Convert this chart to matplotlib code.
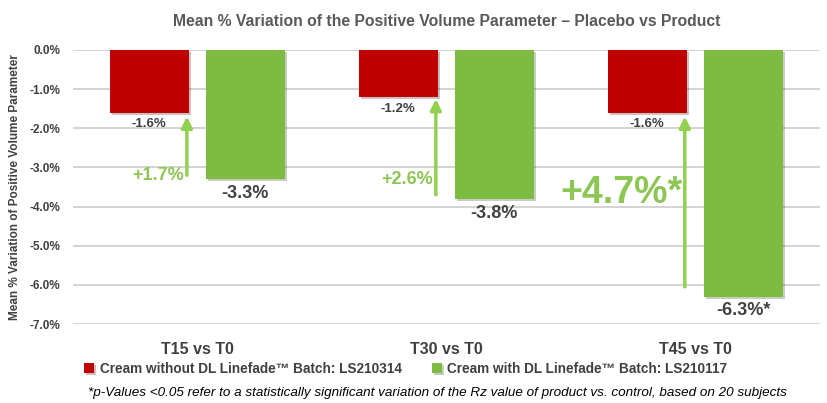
import numpy as np
import matplotlib
matplotlib.use("Agg")
from matplotlib import pyplot as plt
from matplotlib import patheffects as pe

# data
categories = ["T15 vs T0", "T30 vs T0", "T45 vs T0"]
placebo = [-1.6, -1.2, -1.6]
product = [-3.3, -3.8, -6.3]
product_labels = ["-3.3%", "-3.8%", "-6.3%*"]
diff_labels = ["+1.7%", "+2.6%", "+4.7%*"]
arrow_start = [-3.2, -3.7, -6.05]
arrow_end = [-1.7, -1.25, -1.7]
legend_names = ["Cream without DL Linefade\u2122 Batch: LS210314",
                "Cream with DL Linefade\u2122 Batch: LS210117"]

RED = "#C00000"
GREEN = "#7DBB42"
LIGHT_GREEN = "#92D050"
DARK = "#404040"
FONT = ["Liberation Sans", "DejaVu Sans"]

plt.rcParams["font.family"] = FONT

fig = plt.figure(figsize=(8.28, 4.03), dpi=100)
ax = fig.add_axes([0.088, 0.196, 0.902, 0.680])

x = np.arange(len(categories))
w = 0.317
off = 0.193
shadow = [pe.SimplePatchShadow(offset=(1.5, -1.5), alpha=0.25), pe.Normal()]
b1 = ax.bar(x - off, placebo, width=w, color=RED, label=legend_names[0], zorder=3)
b2 = ax.bar(x + off, product, width=w, color=GREEN, label=legend_names[1], zorder=3)
for b in list(b1) + list(b2):
    b.set_path_effects(shadow)

# value labels
for i in range(len(categories)):
    ax.text(x[i] - off, placebo[i] - 0.15, f"{placebo[i]:.1f}%", ha="center", va="top",
            fontsize=9.5, color=DARK, fontweight="bold")
    ax.text(x[i] + off, product[i] - 0.15, product_labels[i], ha="center", va="top",
            fontsize=13, color=DARK, fontweight="bold")

# arrows + differences
diff_sizes = [13, 13, 27]
diff_y = [-3.2, -3.3, -3.65]
for i in range(len(categories)):
    ax_x = x[i] - 0.042
    ax.annotate("", xy=(ax_x, arrow_end[i]), xytext=(ax_x, arrow_start[i]),
                arrowprops=dict(arrowstyle="-|>", color=LIGHT_GREEN, lw=2.5,
                                mutation_scale=16, shrinkA=0, shrinkB=0), zorder=4)
    ax.text(ax_x - 0.01, diff_y[i], diff_labels[i], ha="right", va="center",
            fontsize=diff_sizes[i], color="#8CC653", fontweight="bold")

ax.set_ylim(-7, 0)
ax.set_xlim(-0.5, 2.5)
ax.set_yticks(np.arange(0, -7.5, -1))
ax.set_yticklabels([f"{v:.1f}%" for v in np.arange(0, -7.5, -1)])
ax.set_xticks(x)
ax.set_xticklabels(categories, fontsize=11.5, fontweight="bold", color=DARK)
ax.tick_params(axis="x", length=0, pad=13)
ax.tick_params(axis="y", length=0, labelsize=8.5, labelcolor=DARK, pad=9)
for lab in ax.get_yticklabels():
    lab.set_fontweight("bold")
ax.grid(axis="y", color="#D0D0D0", lw=1.3, zorder=0)
for s in ax.spines.values():
    s.set_visible(False)

ax.set_ylabel("Mean % Variation of Positive Volume Parameter", fontsize=8.5,
              fontweight="bold", color=DARK, labelpad=6)
ax.set_title("Mean % Variation of the Positive Volume Parameter \u2013 Placebo vs Product",
             fontsize=11.3, fontweight="bold", color="#595959", pad=17)

leg = fig.legend(loc="center", bbox_to_anchor=(0.49, 0.085), ncol=2, frameon=False,
                 fontsize=9.8, handlelength=0.75, handleheight=0.75, handletextpad=0.4,
                 columnspacing=2.2)
for t in leg.get_texts():
    t.set_fontweight("bold")
    t.set_color(DARK)

fig.text(0.528, 0.01, "*p-Values <0.05 refer to a statistically significant variation of the Rz value "
         "of product vs. control, based on 20 subjects", ha="center", va="bottom",
         fontsize=9.7, style="italic", color="black")

plt.savefig("out.png", dpi=100)
